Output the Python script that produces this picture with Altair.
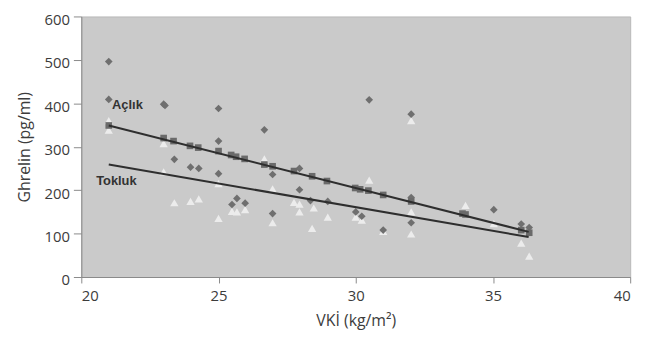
import altair as alt
import pandas as pd

# Açlık (fasting) – dark diamonds
acl_x = [21, 21, 23, 23.05, 25, 26.67, 25, 30.49, 32.02,
         23.39, 23.98, 24.28, 25, 25.49, 25.67, 25.97, 26.97, 26.97,
         27.95, 28.98, 28.35, 27.95, 30.0, 30.22, 31.0, 32.02, 35.03,
         36.03, 36.32, 32.02]
acl_y = [496, 409, 398, 395, 388, 339, 313, 408, 375,
         271, 253, 250, 238, 167, 181, 170, 236, 146,
         201, 174, 176, 250, 150, 140, 108, 125, 155,
         122, 114, 183]

# Predicted (on fasting regression line) – dark squares
sq_x = [21, 23.0, 23.36, 23.96, 24.26, 25, 25.46, 25.64, 25.95, 26.67,
        26.97, 27.75, 28.41, 28.95, 29.98, 30.16, 30.46, 31.0, 32.02,
        33.89, 34.0, 36.03, 36.32]
sq_y = [349, 320, 313, 302, 298, 290, 281, 277, 272, 259,
        255, 244, 232, 221, 205, 202, 199, 189, 174,
        146, 144, 108, 102]

# Tokluk (postprandial) – light triangles
tok_x = [21, 21, 23, 26.67, 23, 23.39, 23.98, 24.28, 25.49, 25.67,
         25.97, 25, 26.97, 26.97, 25, 27.75, 27.95, 27.95, 28.47, 28.41,
         28.98, 30.49, 30.0, 30.22, 31.0, 32.02, 32.02, 32.02, 34.0, 35.03,
         36.03, 36.32]
tok_y = [360, 338, 307, 272, 242, 171, 174, 180, 151, 150,
         155, 135, 125, 203, 215, 172, 168, 150, 159, 112,
         138, 223, 138, 131, 105, 360, 99, 150, 165, 123,
         78, 48]

# Regression lines
fit_x = [21, 36.3]
acl_fit = [349, 104]
tok_fit = [259, 92]

# Text labels
lab_text = ["Açlık", "Tokluk"]
lab_x = [21.12, 20.54]
lab_y = [395, 221]

xs = alt.Scale(domain=[20, 40], nice=False)
ys = alt.Scale(domain=[0, 600], nice=False)

xax = alt.Axis(values=[20, 25, 30, 35, 40], title="VKİ (kg/m²)", grid=False,
               labelPadding=6, titlePadding=9, tickSize=6)
yax = alt.Axis(values=[0, 100, 200, 300, 400, 500, 600], title="Ghrelin (pg/ml)",
               grid=False, labelPadding=4, titlePadding=12, tickSize=8,
               labelOffset=3)

X = alt.X("x:Q", scale=xs, axis=xax)
Y = alt.Y("y:Q", scale=ys, axis=yax)

df_acl = pd.DataFrame({"x": acl_x, "y": acl_y})
df_sq = pd.DataFrame({"x": sq_x, "y": sq_y})
df_tok = pd.DataFrame({"x": tok_x, "y": tok_y})
df_fa = pd.DataFrame({"x": fit_x, "y": acl_fit})
df_ft = pd.DataFrame({"x": fit_x, "y": tok_fit})
df_lab = pd.DataFrame({"x": lab_x, "y": lab_y, "t": lab_text})

tri = alt.Chart(df_tok).mark_point(shape="triangle-up", filled=True, size=70,
                                   color="#ececec", opacity=1).encode(x=X, y=Y)
dia = alt.Chart(df_acl).mark_point(shape="diamond", filled=True, size=60,
                                   color="#6f6f6f", opacity=1).encode(x=X, y=Y)
sq = alt.Chart(df_sq).mark_point(shape="square", filled=True, size=45,
                                 color="#6a6a6a", opacity=1).encode(x=X, y=Y)
la = alt.Chart(df_fa).mark_line(color="#2e2e2e", strokeWidth=2).encode(x=X, y=Y)
lt = alt.Chart(df_ft).mark_line(color="#2e2e2e", strokeWidth=2).encode(x=X, y=Y)
txt = alt.Chart(df_lab).mark_text(align="left", baseline="middle", fontSize=13,
                                  fontWeight="bold", font="Liberation Sans",
                                  color="#333333").encode(x=X, y=Y, text="t:N")

chart = alt.layer(tri, dia, sq, la, lt, txt).properties(
    width=554, height=263,
    autosize=alt.AutoSizeParams(type="none"),
    padding={"left": 74, "top": 7, "right": 20, "bottom": 58},
).configure_view(
    fill="#cacaca", stroke="#b8b8b8", strokeWidth=1
).configure_axis(
    labelFont="Open Sans", titleFont="Open Sans",
    labelFontSize=15, titleFontSize=16, titleFontWeight="normal",
    labelColor="#3c3c3c", titleColor="#3c3c3c",
    domainColor="#8a8a8a", tickColor="#8a8a8a"
)

chart.save("out.html", embed_options={"renderer": "svg", "actions": False})
